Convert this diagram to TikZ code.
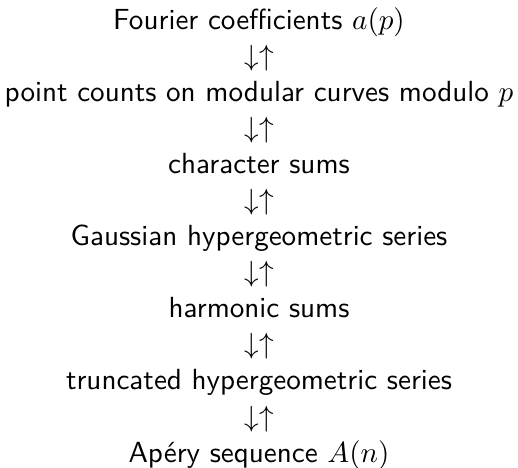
\documentclass[tikz,border=0pt]{standalone}
\usepackage{amsmath, amssymb}
\usepackage{tikz}
\usetikzlibrary{positioning}

\begin{document}
\begin{tikzpicture}[node distance=12.4pt,
        level/.style={inner sep=0pt,anchor=base,font=\sffamily},
        link/.style={inner sep=0pt,anchor=base}]
    \useasboundingbox (-89pt,10pt) rectangle (89pt,-150.8pt);
    \node[level] (fourier) at (0,0) {Fourier coefficients $a(p)$};
    \node[link,below=of fourier.base,anchor=base] (l1) {$\downarrow\uparrow$};
    \node[level,below=of l1.base,anchor=base] (points)
        {point counts on modular curves modulo $p$};
    \node[link,below=of points.base,anchor=base] (l2) {$\downarrow\uparrow$};
    \node[level,below=of l2.base,anchor=base] (chars) {character sums};
    \node[link,below=of chars.base,anchor=base] (l3) {$\downarrow\uparrow$};
    \node[level,below=of l3.base,anchor=base] (gauss)
        {Gaussian hypergeometric series};
    \node[link,below=of gauss.base,anchor=base] (l4) {$\downarrow\uparrow$};
    \node[level,below=of l4.base,anchor=base] (harm) {harmonic sums};
    \node[link,below=of harm.base,anchor=base] (l5) {$\downarrow\uparrow$};
    \node[level,below=of l5.base,anchor=base] (trunc)
        {truncated hypergeometric series};
    \node[link,below=of trunc.base,anchor=base] (l6) {$\downarrow\uparrow$};
    \node[level,below=of l6.base,anchor=base] (apery)
        {Ap\'ery sequence $A(n)$};
\end{tikzpicture}
\end{document}
